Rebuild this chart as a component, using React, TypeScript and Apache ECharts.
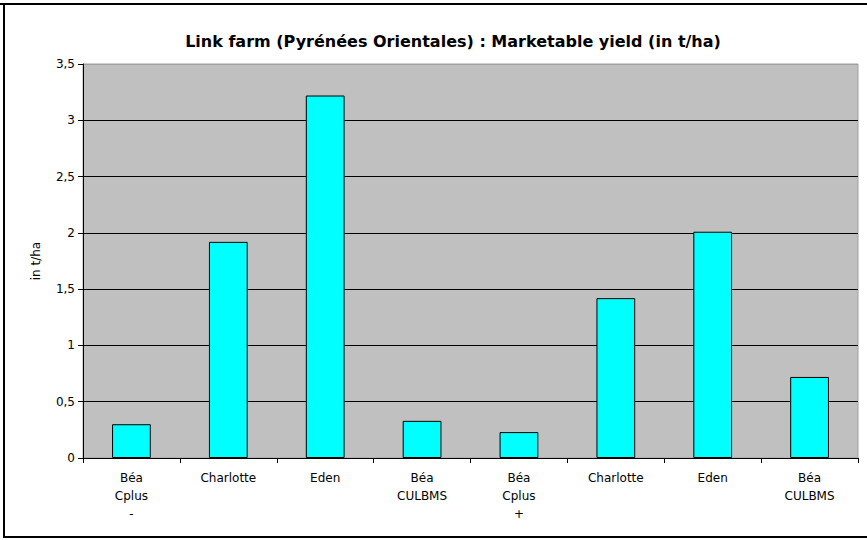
import React, { useEffect, useRef } from "react";
import * as echarts from "echarts";

const categories = [
  "Béa\nCplus\n-",
  "Charlotte",
  "Eden",
  "Béa\nCULBMS",
  "Béa\nCplus\n+",
  "Charlotte",
  "Eden",
  "Béa\nCULBMS",
];
const yieldValues = [0.3, 1.92, 3.22, 0.33, 0.23, 1.42, 2.01, 0.72];
const titleText = "Link farm (Pyrénées Orientales) : Marketable yield (in t/ha)";
const yAxisName = "in t/ha";

export default function App() {
  const ref = useRef<HTMLDivElement>(null);
  useEffect(() => {
    if (!ref.current) return;
    const chart = echarts.init(ref.current, null, { renderer: "svg" });
    const font = "DejaVu Sans, Liberation Sans, Arial, sans-serif";
    const frameStyle = { stroke: "#000", lineWidth: 2 };
    chart.setOption({
      animation: false,
      backgroundColor: "#ffffff",
      textStyle: { fontFamily: font, color: "#000" },
      title: {
        text: titleText,
        left: 448,
        top: 28,
        textAlign: "center",
        textStyle: { fontFamily: font, fontSize: 16, fontWeight: "bold", color: "#000" },
      },
      grid: {
        left: 83,
        right: 9,
        top: 64,
        bottom: 82,
        show: true,
        backgroundColor: "#c0c0c0",
        borderColor: "#a0a0a0",
        borderWidth: 1,
      },
      xAxis: {
        type: "category",
        data: categories,
        axisLine: { show: true, lineStyle: { color: "#000", width: 1 } },
        axisTick: { show: true, alignWithLabel: false, length: 5, lineStyle: { color: "#000" } },
        axisLabel: {
          interval: 0,
          margin: 11,
          fontFamily: font,
          fontSize: 12,
          lineHeight: 18,
          color: "#000",
        },
        splitLine: { show: false },
      },
      yAxis: {
        type: "value",
        min: 0,
        max: 3.5,
        interval: 0.5,
        name: yAxisName,
        nameLocation: "middle",
        nameRotate: 90,
        nameGap: 41,
        nameTextStyle: { fontFamily: font, fontSize: 12, color: "#000" },
        axisLine: { show: true, lineStyle: { color: "#000", width: 1 } },
        axisTick: { show: true, length: 5, lineStyle: { color: "#000" } },
        axisLabel: {
          margin: 8,
          fontFamily: font,
          fontSize: 12,
          color: "#000",
          formatter: (v: number) => String(v).replace(".", ","),
        },
        splitLine: {
          show: true,
          lineStyle: {
            color: ["#000", "#000", "#000", "#000", "#000", "#000", "#000", "#a0a0a0"],
            width: 1,
          },
        },
      },
      series: [
        {
          type: "bar",
          data: yieldValues,
          barWidth: "40%",
          itemStyle: { color: "#00ffff", borderColor: "#000", borderWidth: 1 },
        },
      ],
      graphic: [
        { type: "line", shape: { x1: 0, y1: 4, x2: 867, y2: 4 }, style: frameStyle, silent: true },
        { type: "line", shape: { x1: 4, y1: 4, x2: 4, y2: 538 }, style: frameStyle, silent: true },
        { type: "line", shape: { x1: 4, y1: 537, x2: 867, y2: 537 }, style: frameStyle, silent: true },
      ],
    });
    return () => chart.dispose();
  }, []);
  return (
    <div
      ref={ref}
      style={{ position: "absolute", left: 0, top: 0, width: 867, height: 540 }}
    />
  );
}
